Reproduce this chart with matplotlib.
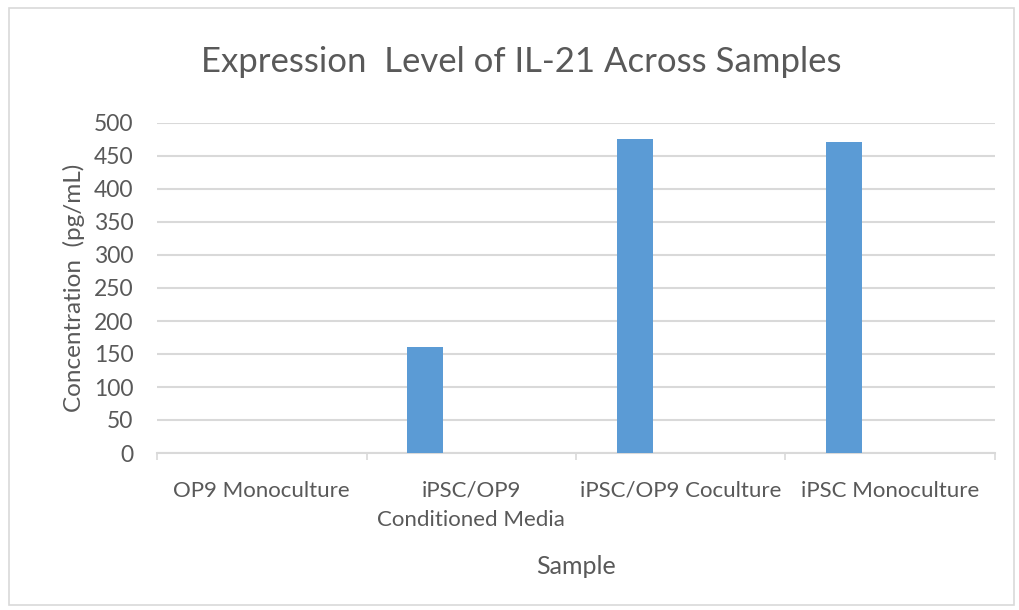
import matplotlib.pyplot as plt
from matplotlib.patches import Rectangle
import numpy as np

# data
samples = ["OP9 Monoculture", "iPSC/OP9\nConditioned Media",
           "iPSC/OP9 Coculture", "iPSC Monoculture"]
concentration = [0, 160, 475, 471]
y_ticks = [0, 50, 100, 150, 200, 250, 300, 350, 400, 450, 500]

plt.rcParams['font.family'] = ['Lato', 'DejaVu Sans']
text_grey = '#595959'
grid_grey = '#d9d9d9'
bar_blue = '#5b9bd5'

fig = plt.figure(figsize=(10.2, 6.1), dpi=100)
ax = fig.add_axes([157/1020, 1 - 453/610, (995 - 157)/1020, (453 - 123)/610])

x = np.arange(len(samples))
# bars sit left of category centre, like the original Excel chart
ax.bar(x - 0.22, concentration, width=0.173, color=bar_blue, zorder=3)

ax.set_xlim(-0.5, len(samples) - 0.5)
ax.set_ylim(0, 500)
ax.set_yticks(y_ticks)
ax.set_xticks(x)
ax.set_xticklabels(samples, fontsize=16, color=text_grey, linespacing=1.6)
ax.set_xticks(np.arange(len(samples) + 1) - 0.5, minor=True)
ax.tick_params(axis='x', which='major', length=0, pad=20)
ax.tick_params(axis='x', which='minor', length=5, color=grid_grey, width=1.2)
ax.tick_params(axis='y', length=0, labelsize=16.5, labelcolor=text_grey, pad=17)

ax.yaxis.grid(True, color=grid_grey, linewidth=1.5, zorder=0)
for side in ['top', 'right', 'left']:
    ax.spines[side].set_visible(False)
ax.spines['bottom'].set_color(grid_grey)
ax.spines['bottom'].set_linewidth(1.5)

ax.set_ylabel('Concentration  (pg/mL)', fontsize=17.5, color=text_grey, labelpad=6)
ax.set_xlabel('Sample', fontsize=18, color=text_grey, labelpad=18)

fig.text(521/1020, 1 - 62/610, 'Expression  Level of IL-21 Across Samples',
         ha='center', va='center', fontsize=25, color=text_grey)

# outer chart border
fig.patches.append(Rectangle((9/1020, 5/610), 1005/1020, 597/610,
                             transform=fig.transFigure, fill=False,
                             edgecolor='#d9d9d9', linewidth=1.2))

fig.savefig('out.png', dpi=100)
